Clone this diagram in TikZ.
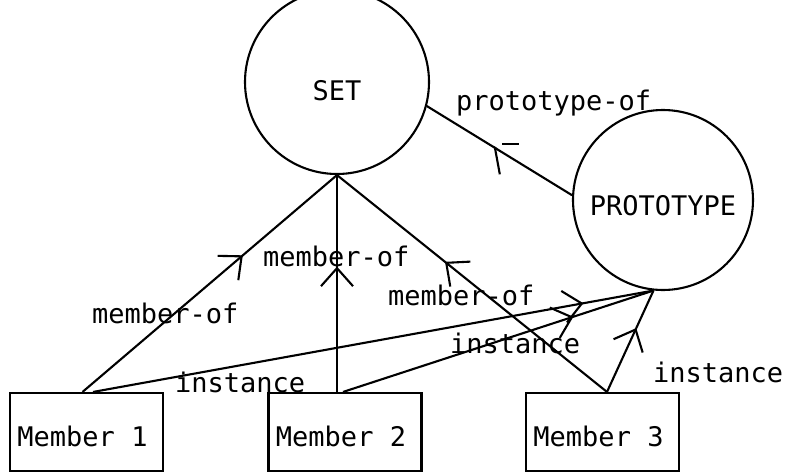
\documentclass[tikz,border=0pt]{standalone}
\usepackage{fontspec}
\newfontfamily\plotfont{DejaVu Sans Mono}
\usetikzlibrary{arrows.meta,decorations.markings}
\begin{document}
\begin{tikzpicture}[x=1pt,y=-1pt,
  every node/.style={font={\plotfont\fontsize{27}{30}\selectfont}},
  conn/.style={line width=2.1pt},
  circ/.style={draw,circle,line width=2.1pt,minimum size=184pt,inner sep=0pt,text depth=0pt},
  memberbox/.style={draw,rectangle,line width=2.1pt,minimum width=153pt,minimum height=78pt,inner sep=0pt,text height=28pt,text depth=0pt},
  lab/.style={inner sep=0pt,anchor=base west},
  arr/.style={postaction={decorate,decoration={markings,mark=at position #1 with {\arrow[line width=2.1pt]{Straight Barb[length=18pt,width=32pt]}}}}},
  halfarr/.style={postaction={decorate,decoration={markings,mark=at position #1 with {\arrow[line width=2.1pt]{Straight Barb[length=18pt,width=40pt,left]}}}}}
]
\useasboundingbox (0,0) rectangle (788,474);
% circles
\node[circ,text height=36pt] (set) at (337,82) {SET};
\node[circ,minimum size=180pt,text height=30pt] (proto) at (663,200) {PROTOTYPE};
% member boxes
\node[memberbox] (m1) at (86.5,432) {\hspace*{-8pt}Member 1};
\node[memberbox] (m2) at (345,432) {\hspace*{-8pt}Member 2};
\node[memberbox] (m3) at (602.5,432) {\hspace*{-8pt}Member 3};
% member-of connectors
\draw[conn,arr=0.63] ([xshift=-4pt]m1.north) -- (set.south);
\draw[conn,arr=0.578] ([xshift=-8pt]m2.north) -- (set.south);
\draw[conn,arr=0.6] ([xshift=4.5pt]m3.north) -- (set.south);
% instance connectors
\draw[conn,arr=0.875] ([xshift=6.5pt]m1.north) -- (proto.-96);
\draw[conn,arr=0.742] ([xshift=-2pt]m2.north) -- (proto.-96);
\draw[conn,arr=0.63] ([xshift=4.5pt]m3.north) -- (proto.-96);
% prototype-of connector
\draw[conn,halfarr=0.545] (proto.177) -- (set.-15);
\coordinate (dashA) at (502,144);
\coordinate (dashB) at (519,144);
\draw[conn] (dashA) -- (dashB);
% labels
\node[lab] (lpo) at (456,110) {prototype-of};
\node[lab] (lm1) at (92,323) {member-of};
\node[lab] (lm2) at (263,266) {member-of};
\node[lab] (lm3) at (388,305) {member-of};
\node[lab] (li1) at (175,392) {instance};
\node[lab] (li2) at (450,353) {instance};
\node[lab] (li3) at (653,382) {instance};
\end{tikzpicture}
\end{document}
